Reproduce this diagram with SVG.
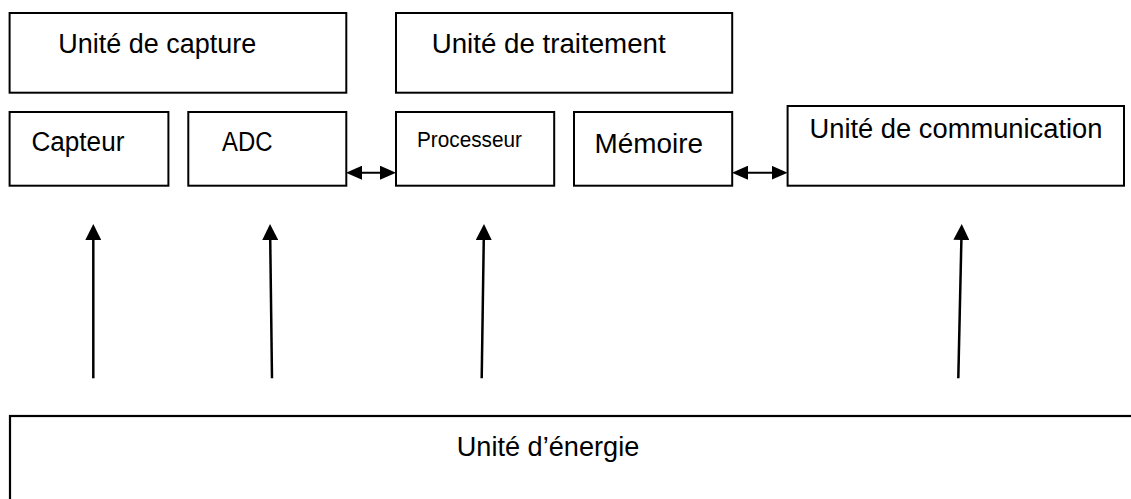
<svg xmlns="http://www.w3.org/2000/svg" width="1131" height="499" viewBox="0 0 1131 499">
<style>
.box{fill:#fff;stroke:#000;stroke-width:2}
.lbl{font-family:"Liberation Sans",Arial,sans-serif;font-size:27px;fill:#000}
.sm{font-size:21.5px}
.conn{stroke:#000;fill:none}
</style>
<defs>
<marker id="up" viewBox="0 0 16 16" refX="10" refY="8" markerWidth="16" markerHeight="16" markerUnits="userSpaceOnUse" orient="auto">
<path d="M0,0 L16,8 L0,16 z" fill="#000"/>
</marker>
<marker id="dh" viewBox="0 0 16 14" refX="12" refY="7" markerWidth="16" markerHeight="14" markerUnits="userSpaceOnUse" orient="auto-start-reverse">
<path d="M0,0 L16,7 L0,14 z" fill="#000"/>
</marker>
</defs>
<rect width="1131" height="499" fill="#fff"/>
<g id="unite-capture"><rect class="box" x="9.6" y="13" width="336.7" height="79.7"/><text class="lbl" x="58.2" y="53" textLength="198" lengthAdjust="spacingAndGlyphs">Unité de capture</text></g>
<g id="unite-traitement"><rect class="box" x="396" y="13" width="336.2" height="79.7"/><text class="lbl" x="431.7" y="53" textLength="234" lengthAdjust="spacingAndGlyphs">Unité de traitement</text></g>
<g id="capteur"><rect class="box" x="9.6" y="112" width="158.8" height="73.7"/><text class="lbl" x="31.4" y="151" textLength="93" lengthAdjust="spacingAndGlyphs">Capteur</text></g>
<g id="adc"><rect class="box" x="188.3" y="112" width="158" height="73.7"/><text class="lbl" x="222" y="151" textLength="50.5" lengthAdjust="spacingAndGlyphs">ADC</text></g>
<g id="processeur"><rect class="box" x="396" y="112" width="158.2" height="73.7"/><text class="lbl sm" x="417" y="146.5" textLength="105" lengthAdjust="spacingAndGlyphs">Processeur</text></g>
<g id="memoire"><rect class="box" x="574" y="112" width="158.2" height="73.7"/><text class="lbl" x="594.6" y="152.5" textLength="108.5" lengthAdjust="spacingAndGlyphs">Mémoire</text></g>
<g id="unite-communication"><rect class="box" x="787.6" y="106" width="336.4" height="79.7"/><text class="lbl" x="809.5" y="138" textLength="293" lengthAdjust="spacingAndGlyphs">Unité de communication</text></g>
<g id="unite-energie"><rect class="box" x="10" y="416" width="1140" height="100" style="stroke-width:2.2"/><text class="lbl" x="456.7" y="456" textLength="182.6" lengthAdjust="spacingAndGlyphs">Unité d’énergie</text></g>
<g id="connectors">
<line class="conn" x1="350" y1="172.7" x2="392" y2="172.7" stroke-width="2" marker-start="url(#dh)" marker-end="url(#dh)"/>
<line class="conn" x1="736" y1="172.7" x2="783.6" y2="172.7" stroke-width="2" marker-start="url(#dh)" marker-end="url(#dh)"/>
<line class="conn" x1="93.3" y1="378.3" x2="93.3" y2="230" stroke-width="2.5" marker-end="url(#up)"/>
<line class="conn" x1="272" y1="378.3" x2="270.1" y2="230" stroke-width="2.5" marker-end="url(#up)"/>
<line class="conn" x1="481.7" y1="378.3" x2="483.9" y2="230" stroke-width="2.5" marker-end="url(#up)"/>
<line class="conn" x1="958.3" y1="378.3" x2="961.6" y2="230" stroke-width="2.5" marker-end="url(#up)"/>
</g>
</svg>
